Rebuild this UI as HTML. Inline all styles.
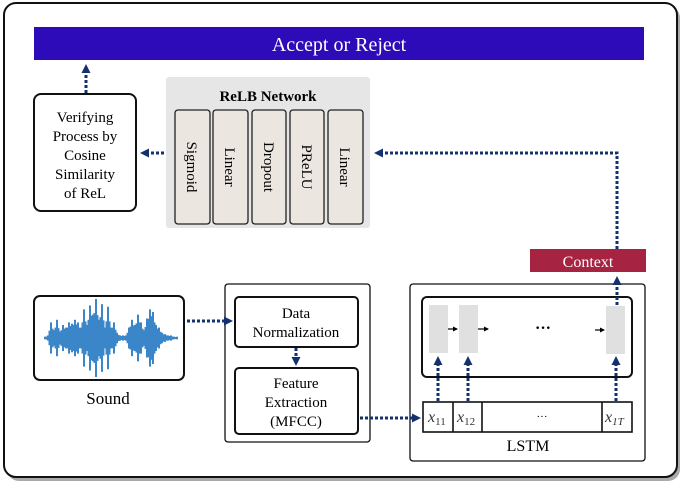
<!DOCTYPE html>
<html><head><style>
body{margin:0;background:#fff;}
svg{display:block;font-family:"Liberation Serif",serif;}
</style></head><body>
<svg width="685" height="488" viewBox="0 0 685 488" xmlns="http://www.w3.org/2000/svg">
<defs>
<marker id="ah" markerWidth="9" markerHeight="9" refX="5" refY="4.5" orient="auto" markerUnits="userSpaceOnUse"><path d="M0,0 L9,4.5 L0,9 z" fill="#14306e"/></marker>
<marker id="sh" markerWidth="5" markerHeight="5" refX="4" refY="2.5" orient="auto" markerUnits="userSpaceOnUse"><path d="M0,0 L5,2.5 L0,5 z" fill="#000"/></marker>
</defs>
<rect x="7" y="6" width="673" height="475" rx="12" fill="#555" opacity="0.5"/>
<rect x="4" y="3" width="673" height="474" rx="12" fill="#fff" stroke="#111" stroke-width="2"/>
<rect x="34" y="27" width="610" height="33" fill="#2e0bb8"/>
<text x="339" y="51" font-size="20" fill="#fff" text-anchor="middle">Accept or Reject</text>

<rect x="166" y="77" width="204" height="151" rx="3" fill="#e6e6e6"/>
<text x="268" y="101" font-size="15" font-weight="bold" text-anchor="middle">ReLB Network</text>
<g fill="#ebe6df" stroke="#222" stroke-width="1.3">
<rect x="175" y="110" width="35" height="114" rx="3"/>
<rect x="213" y="110" width="35" height="114" rx="3"/>
<rect x="252" y="110" width="34" height="114" rx="3"/>
<rect x="290" y="110" width="34" height="114" rx="3"/>
<rect x="328" y="110" width="35" height="114" rx="3"/>
</g>
<g font-size="15" text-anchor="middle">
<text transform="translate(187,167) rotate(90)">Sigmoid</text>
<text transform="translate(225,167) rotate(90)">Linear</text>
<text transform="translate(264,167) rotate(90)">Dropout</text>
<text transform="translate(302,167) rotate(90)">PReLU</text>
<text transform="translate(340,167) rotate(90)">Linear</text>
</g>

<rect x="34" y="94" width="102" height="117" rx="7" fill="#fff" stroke="#111" stroke-width="2"/>
<g font-size="15" text-anchor="middle">
<text x="85" y="122">Verifying</text>
<text x="85" y="141">Process by</text>
<text x="85" y="160">Cosine</text>
<text x="85" y="179">Similarity</text>
<text x="85" y="198">of ReL</text>
</g>

<rect x="530" y="249" width="116" height="23" fill="#a62442"/>
<text x="588" y="267" font-size="16" fill="#fff" text-anchor="middle">Context</text>

<rect x="34" y="296" width="150" height="84" rx="6" fill="#fff" stroke="#111" stroke-width="2"/>
<g stroke="#3a86c8" stroke-width="2" id="wave">
<line x1="44" y1="338" x2="178" y2="338" stroke-width="1.5"/>
</g>
<text x="108" y="404" font-size="17" text-anchor="middle">Sound</text>

<rect x="225" y="284" width="145" height="158" rx="3" fill="#fff" stroke="#111" stroke-width="1.3"/>
<rect x="235" y="297" width="123" height="50" rx="4" fill="#fff" stroke="#111" stroke-width="2"/>
<text x="296" y="318" font-size="15" text-anchor="middle">Data</text>
<text x="296" y="337" font-size="15" text-anchor="middle">Normalization</text>
<rect x="235" y="368" width="123" height="66" rx="4" fill="#fff" stroke="#111" stroke-width="2"/>
<text x="296" y="388" font-size="15" text-anchor="middle">Feature</text>
<text x="296" y="407" font-size="15" text-anchor="middle">Extraction</text>
<text x="296" y="426" font-size="15" text-anchor="middle">(MFCC)</text>

<rect x="410" y="284" width="235" height="177" rx="3" fill="#fff" stroke="#111" stroke-width="1.3"/>
<rect x="422" y="297" width="210" height="80" rx="5" fill="#fff" stroke="#111" stroke-width="2"/>
<rect x="429" y="305" width="19" height="48" fill="#e0e0e0"/>
<rect x="459" y="305" width="19" height="48" fill="#e0e0e0"/>
<rect x="606" y="306" width="19" height="48" fill="#e0e0e0"/>
<g stroke="#000" stroke-width="1.2">
<line x1="448" y1="329" x2="457" y2="329" marker-end="url(#sh)"/>
<line x1="478" y1="329" x2="488" y2="329" marker-end="url(#sh)"/>
<line x1="595" y1="330" x2="604" y2="330" marker-end="url(#sh)"/>
</g>
<text x="543" y="333" font-size="16" font-weight="bold" text-anchor="middle">···</text>

<rect x="423" y="402" width="209" height="30" fill="#fff" stroke="#111" stroke-width="1.6"/>
<g stroke="#111" stroke-width="1.6"><line x1="453" y1="402" x2="453" y2="432"/><line x1="482" y1="402" x2="482" y2="432"/><line x1="602" y1="402" x2="602" y2="432"/></g>
<g font-size="16" font-style="italic" fill="#333">
<text x="428" y="422">x<tspan font-size="11" font-style="normal" dy="3">11</tspan></text>
<text x="457" y="422">x<tspan font-size="11" font-style="normal" dy="3">12</tspan></text>
<text x="605" y="422">x<tspan font-size="11" dy="3">1T</tspan></text>
</g>
<text x="542" y="420" font-size="11" text-anchor="middle">···</text>
<text x="528" y="451" font-size="16" text-anchor="middle">LSTM</text>

<g stroke="#14306e" stroke-width="3" stroke-dasharray="3,2" fill="none">
<path d="M86 93 V68" marker-end="url(#ah)"/>
<path d="M164 153 H144" marker-end="url(#ah)"/>
<path d="M617 249 V153 H378" marker-end="url(#ah)"/>
<path d="M617 305 V280" marker-end="url(#ah)"/>
<path d="M187 321 H229" marker-end="url(#ah)"/>
<path d="M296 348 V362" marker-end="url(#ah)"/>
<path d="M360 418 H417" marker-end="url(#ah)"/>
<path d="M438 401 V360" marker-end="url(#ah)"/>
<path d="M468 401 V360" marker-end="url(#ah)"/>
<path d="M616 401 V360" marker-end="url(#ah)"/>
</g>
</svg>
<script>
var a=[1,2,12,6,14,5,10,8,12,11,14,12,8,22,10,25,18,30,14,26,8,24,8,12,4,2,2,2,8,14,10,18,12,6,15,22,20,10,8,4,3,2,2,1,1];
var g=document.getElementById('wave');
for(var i=0;i<a.length*2-1;i++){var k=Math.floor(i/2);var v=(i%2==0)?a[k]:(a[k]+a[k+1])/2*0.8;var x=45+i*1.5;
var l=document.createElementNS('http://www.w3.org/2000/svg','line');
l.setAttribute('x1',x);l.setAttribute('x2',x);l.setAttribute('y1',338-v*1.3);l.setAttribute('y2',338+v*1.3);g.appendChild(l);}
</script>
</body></html>
